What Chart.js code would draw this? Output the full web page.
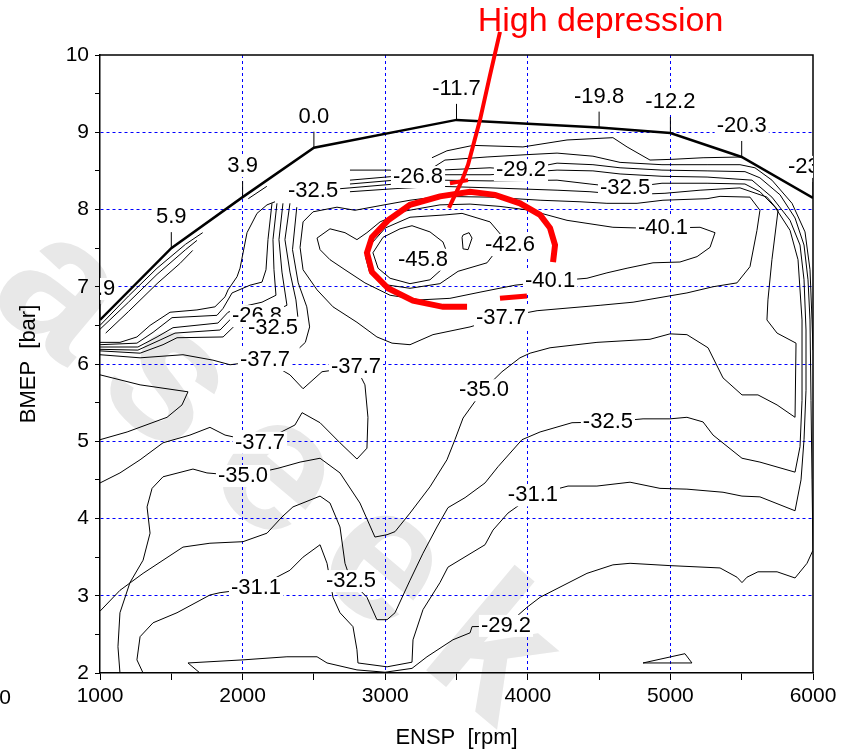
<!DOCTYPE html>
<html>
<head>
<meta charset="utf-8">
<script src="https://cdn.jsdelivr.net/npm/chart.js@4/dist/chart.umd.min.js"></script>
<style>body{margin:0;background:#fff}</style>
</head>
<body>
<canvas id="c" width="852" height="755"></canvas>
<script>
// full load curve and its value labels
const fullRpm = [1000, 1500, 2000, 2500, 3500, 4500, 5000, 5500, 6000];
const fullBmep = [6.57, 7.50, 8.16, 8.80, 9.16, 9.06, 8.99, 8.68, 8.15];
const fullLabels = ['7.9', '5.9', '3.9', '0.0', '-11.7', '-19.8', '-12.2', '-20.3', '-23.5'];

// contour lines [rpm, bmep]
const c268 = [[2753,8.51],[3034,8.51],[3230,8.42],[3419,8.64],[3714,8.68],[3994,8.71],[4205,8.73],[4457,8.69],[4647,8.61],[4941,8.58],[5257,8.58],[5488,8.58],[5593,8.54],[5712,8.38],[5853,8.08],[5944,7.71],[5979,7.22],[5993,6.57],[6000,6.18]];
const cTop = [[3328,8.67],[3433,8.76],[3616,8.83],[3966,8.81],[4275,8.90],[4597,8.93],[4696,8.81],[4857,8.64],[5018,8.65],[5229,8.67],[5509,8.68]];
const c292 = [[1701,2.00],[1617,2.13],[2003,2.17],[2311,2.21],[2522,2.21],[2592,2.13],[2802,2.04],[2999,2.01],[3188,2.06],[3293,2.21],[3475,2.43],[3595,2.52],[3609,2.60],[3847,2.61],[3994,2.85],[4086,2.98],[4415,3.29],[4597,3.40],[4717,3.42],[4997,3.39],[5348,3.36],[5467,3.24],[5502,3.17],[5537,3.24],[5614,3.31],[5748,3.31],[5874,3.23],[5958,3.42],[6000,3.59],[5993,4.50],[5986,5.53],[5979,6.57],[5965,7.09],[5937,7.54],[5874,7.89],[5769,8.19],[5628,8.41],[5523,8.49],[5257,8.50],[4941,8.51],[4647,8.54],[4457,8.58],[4205,8.60],[3952,8.51],[3735,8.54],[3384,8.51],[3069,8.43],[2753,8.38]];
const c311 = [[1302,2.00],[1259,2.17],[1281,2.47],[1372,2.65],[1540,2.78],[1701,2.94],[1771,3.01],[1842,3.04],[2094,3.10],[2332,3.33],[2424,3.50],[2543,3.66],[2592,3.42],[2634,2.98],[2683,2.78],[2774,2.60],[2802,2.30],[2809,2.13],[3013,2.08],[3188,2.14],[3195,2.43],[3265,2.82],[3384,3.17],[3440,3.37],[3700,3.66],[3756,3.85],[3861,4.07],[4036,4.30],[4282,4.42],[4485,4.42],[4717,4.47],[4927,4.39],[5116,4.38],[5369,4.34],[5502,4.29],[5628,4.28],[5874,4.10],[5916,4.50],[5937,5.02],[5951,5.66],[5951,6.44],[5937,7.09],[5909,7.54],[5839,7.86],[5712,8.16],[5572,8.38],[5257,8.42],[4941,8.43],[4647,8.46],[4457,8.50],[4205,8.51],[3735,8.45],[3384,8.45],[3069,8.38],[2753,8.33]];
const c325 = [[1000,2.80],[1140,3.07],[1302,3.29],[1582,3.63],[1771,3.68],[2003,3.70],[2171,3.81],[2276,4.02],[2353,4.15],[2543,4.29],[2613,4.20],[2683,3.89],[2718,3.42],[2760,3.19],[2872,2.98],[2942,2.69],[3013,2.69],[3069,2.78],[3174,3.20],[3265,3.55],[3363,3.89],[3440,4.14],[3560,4.27],[3700,4.46],[3791,4.67],[3959,5.02],[4086,5.12],[4310,5.24],[4562,5.25],[4808,5.29],[4997,5.29],[5116,5.31],[5229,5.25],[5299,5.08],[5502,4.78],[5628,4.73],[5874,4.60],[5909,4.93],[5923,5.53],[5923,6.57],[5895,7.35],[5839,7.73],[5734,8.03],[5628,8.23],[5523,8.33],[5257,8.34],[4941,8.34],[4682,8.28],[4436,8.33],[4205,8.38],[3735,8.37],[3384,8.38],[3069,8.33],[2753,8.28],[2494,8.24]];
const c350 = [[1140,2.00],[1126,2.34],[1140,2.78],[1210,3.17],[1302,3.46],[1351,3.81],[1330,4.15],[1365,4.39],[1442,4.54],[1652,4.64],[1750,4.59],[2003,4.55],[2248,4.65],[2403,4.73],[2543,4.78],[2683,4.59],[2823,4.20],[2928,3.76],[3013,3.79],[3069,3.83],[3174,4.07],[3314,4.41],[3433,4.76],[3489,5.02],[3546,5.30],[3686,5.66],[3819,5.90],[3945,6.08],[4016,6.14],[4156,6.21],[4485,6.28],[4857,6.32],[4997,6.39],[5116,6.38],[5264,6.21],[5369,5.82],[5502,5.60],[5614,5.60],[5748,5.47],[5874,5.31],[5881,6.27],[5748,6.40],[5677,6.57],[5684,6.83],[5712,7.35],[5755,7.99],[5677,8.16],[5488,8.28],[5208,8.25],[4962,8.21],[4682,8.19],[4436,8.23],[4205,8.25],[3735,8.28],[3384,8.30],[3069,8.27],[2753,8.23]];
const c377Low = [[1000,6.12],[1281,6.08],[1582,6.12],[1792,6.05],[1912,5.99],[2157,6.05],[2332,5.86],[2424,5.68],[2557,5.90],[2795,5.96],[2858,5.73],[2879,5.31],[2872,4.91],[2802,4.77],[2683,4.98],[2543,5.24],[2417,5.37],[2367,5.21],[2122,4.98],[1877,5.08],[1771,5.18],[1631,5.08],[1442,4.98],[1281,4.76],[1140,4.59],[1000,4.46]];
const c377Up = [[3812,6.60],[3595,6.48],[3335,6.38],[3174,6.25],[3048,6.27],[2942,6.35],[2802,6.54],[2634,6.74],[2522,6.96],[2424,7.22],[2403,7.51],[2424,7.84],[2494,7.97],[2662,8.03],[2788,7.99],[2964,8.05],[3174,8.12],[3384,8.17],[3735,8.16],[4086,8.12],[4366,8.10],[4555,8.08],[4766,8.08],[4948,8.12],[5257,8.14],[5348,8.17],[5558,8.16],[5628,7.99],[5607,7.73],[5558,7.26],[5467,7.05],[5299,7.00],[5116,6.92],[4738,6.80],[4507,6.76],[4065,6.69],[3812,6.60]];
const c401 = [[2522,7.63],[2613,7.75],[2718,7.70],[2802,7.61],[2872,7.70],[2964,7.84],[3139,7.98],[3384,8.06],[3595,8.07],[3805,8.04],[4016,7.99],[4275,7.86],[4597,7.77],[4787,7.76],[4948,7.76],[5208,7.77],[5313,7.70],[5278,7.51],[5187,7.39],[5067,7.32],[4878,7.31],[4696,7.24],[4555,7.18],[4415,7.11],[4156,7.07],[3910,7.02],[3665,6.93],[3454,6.85],[3244,6.83],[3034,6.89],[2858,7.05],[2718,7.22],[2613,7.35],[2543,7.48],[2522,7.63]];
const c426 = [[2900,7.55],[3000,7.76],[3174,7.90],[3419,7.93],[3539,7.95],[3735,7.84],[3840,7.61],[3714,7.31],[3511,7.20],[3384,7.04],[3174,6.98],[2990,7.03],[2890,7.19],[2860,7.40],[2900,7.55]];
const c458 = [[2914,7.44],[2985,7.64],[3104,7.75],[3188,7.79],[3314,7.71],[3405,7.58],[3440,7.41],[3405,7.24],[3314,7.09],[3174,7.04],[3034,7.11],[2950,7.24],[2914,7.44]];
const cPeak = [[3546,7.67],[3588,7.70],[3609,7.63],[3581,7.48],[3546,7.49],[3539,7.64],[3546,7.67]];
const cTongue = [[1000,5.86],[1281,5.73],[1617,5.64],[1575,5.47],[1470,5.31],[1190,5.12],[1000,5.02]];
const cTri = [[4808,2.13],[5102,2.25],[5151,2.13],[4808,2.13]];
const k1 = [[1000,6.28],[1140,6.28],[1259,6.35],[1351,6.50],[1491,6.67],[1680,6.70],[1806,6.74],[1877,6.87],[1898,6.96],[1961,7.13],[1982,7.24],[2031,7.70],[2101,7.95],[2171,8.06],[2227,8.10]];
const k2 = [[1000,6.25],[1259,6.27],[1372,6.41],[1505,6.60],[1820,6.63],[1863,6.72],[1926,6.92],[2052,7.02],[2136,7.06],[2164,7.22],[2178,7.61],[2206,8.08]];
const k3 = [[1000,6.22],[1266,6.22],[1400,6.35],[1512,6.47],[1827,6.53],[1898,6.67],[2017,6.75],[2136,6.80],[2234,6.89],[2220,7.22],[2213,7.61],[2241,8.08]];
const k4 = [[1000,6.19],[1266,6.18],[1421,6.31],[1526,6.40],[1842,6.44],[1926,6.60],[2052,6.65],[2192,6.66],[2311,6.76],[2276,7.19],[2255,7.61],[2283,8.08]];
const k5 = [[1000,6.17],[1281,6.14],[1442,6.25],[1540,6.34],[1863,6.35],[1947,6.50],[2087,6.54],[2297,6.57],[2388,6.60],[2374,6.83],[2332,7.19],[2297,7.61],[2332,8.08]];
const k6 = [[2380,8.03],[2350,7.48],[2390,7.05],[2450,6.74],[2470,6.48],[2440,6.28],[2400,6.21]];
const h1 = [[1000,6.50],[1200,6.88],[1400,7.24],[1600,7.55],[1720,7.70]];
const h2 = [[1000,6.45],[1200,6.80],[1400,7.16],[1600,7.48],[1680,7.60]];
const h3 = [[1040,6.40],[1200,6.68],[1400,7.04],[1560,7.30],[1650,7.47]];
const h4 = [[2040,8.14],[2170,8.30]];

// contour value labels [rpm, bmep, text]
const contourLabels = [
  [2101, 6.62, '-26.8'], [2213, 6.47, '-32.5'],
  [2494, 8.24, '-32.5'], [3230, 8.42, '-26.8'], [3952, 8.51, '-29.2'], [4682, 8.28, '-32.5'],
  [4948, 7.76, '-40.1'], [3265, 7.35, '-45.8'], [3875, 7.54, '-42.6'], [4156, 7.07, '-40.1'],
  [3812, 6.60, '-37.7'], [2157, 6.05, '-37.7'], [2795, 5.96, '-37.7'], [3693, 5.66, '-35.0'],
  [4562, 5.25, '-32.5'], [2122, 4.98, '-37.7'], [2003, 4.55, '-35.0'], [4036, 4.30, '-31.1'],
  [2094, 3.10, '-31.1'], [2760, 3.19, '-32.5'], [3847, 2.61, '-29.2']
];

// red annotation
const noteArrow = [[3805,10.30],[3735,9.74],[3665,9.16],[3581,8.58],[3539,8.38],[3447,8.02]];
const noteBarb = [[3454,8.34],[3581,8.38]];
const noteRing = [[4177,7.32],[4191,7.54],[4156,7.76],[4086,7.93],[3945,8.08],[3770,8.19],[3595,8.23],[3384,8.17],[3174,8.06],[3020,7.86],[2907,7.64],[2872,7.44],[2907,7.19],[3020,6.98],[3195,6.82],[3405,6.74],[3574,6.74]];
const noteDash = [[3805,6.85],[3994,6.88]];

const FONT = 'Liberation Sans, Arial, sans-serif';
const pts = a => a.map(p => ({x: p[0], y: p[1]}));
const line = (a, color, w, clip) => ({
  data: pts(a), showLine: true, borderColor: color, borderWidth: w,
  pointRadius: 0, tension: 0, fill: false, clip: clip === false ? false : undefined
});

const red = [
  line(noteArrow, '#ff0000', 4, false),
  line(noteBarb, '#ff0000', 4, false),
  line(noteRing, '#ff0000', 6, false),
  line(noteDash, '#ff0000', 5, false)
];
const blacks = [c268, cTop, c292, c311, c325, c350, c377Low, c377Up, c401, c426, c458, cPeak,
  cTongue, cTri, k1, k2, k3, k4, k5, k6, h1, h2, h3, h4].map(a => line(a, '#000', 1));
const datasets = red.concat([line(fullRpm.map((r, i) => [r, fullBmep[i]]), '#000', 2.5)], blacks);

const overlay = {
  id: 'overlay',
  beforeDraw(chart) {
    // faint watermark behind the plot
    const ctx = chart.ctx;
    ctx.save();
    ctx.fillStyle = '#e8e8e8';
    ctx.font = 'bold 190px ' + FONT;
    ctx.letterSpacing = '35px';
    ctx.translate(-15, 300);
    ctx.rotate(40 * Math.PI / 180);
    ctx.fillText('aseek', 0, 0);
    ctx.restore();
  },
  afterDatasetDraw(chart, args) {
    if (args.index !== red.length) return;
    const ctx = chart.ctx, a = chart.chartArea;
    const xs = chart.scales.x, ys = chart.scales.y;
    ctx.save();
    ctx.strokeStyle = '#000';
    ctx.lineWidth = 1.5;
    ctx.beginPath();
    ctx.moveTo(a.left, a.top); ctx.lineTo(a.right, a.top); ctx.lineTo(a.right, a.bottom);
    ctx.stroke();
    ctx.beginPath();
    ctx.rect(a.left, a.top, a.right - a.left, a.bottom - a.top);
    ctx.clip();
    ctx.font = '22px ' + FONT;
    ctx.textAlign = 'center';
    ctx.textBaseline = 'middle';
    const label = (x, y, t) => {
      const w = ctx.measureText(t).width;
      ctx.fillStyle = '#fff';
      ctx.fillRect(x - w / 2 - 2, y - 11, w + 4, 22);
      ctx.fillStyle = '#000';
      ctx.fillText(t, x, y);
    };
    ctx.lineWidth = 1;
    fullRpm.forEach((r, i) => {
      const px = xs.getPixelForValue(r), py = ys.getPixelForValue(fullBmep[i]);
      ctx.beginPath(); ctx.moveTo(px, py); ctx.lineTo(px, py - 16); ctx.stroke();
      label(px, py - 31, fullLabels[i]);
    });
    contourLabels.forEach(l => label(xs.getPixelForValue(l[0]), ys.getPixelForValue(l[1]), l[2]));
    ctx.restore();
  },
  afterDraw(chart) {
    const ctx = chart.ctx;
    ctx.save();
    ctx.fillStyle = '#ff0000';
    ctx.font = '34px ' + FONT;
    ctx.textAlign = 'center';
    ctx.textBaseline = 'middle';
    ctx.fillText('High depression', chart.scales.x.getPixelForValue(4510), 22);
    ctx.fillStyle = '#000';
    ctx.font = '21px ' + FONT;
    ctx.fillText('0', 5, 698);
    ctx.restore();
  }
};

const majorGrid = (edgeA, edgeB, step) => c => {
  const v = c.tick ? c.tick.value : null;
  if (v === null || v === edgeA || v === edgeB) return 'rgba(0,0,0,0)';
  return Math.abs(v / step - Math.round(v / step)) < 1e-6 ? '#0000ff' : 'rgba(0,0,0,0)';
};

new Chart(document.getElementById('c'), {
  type: 'scatter',
  data: { datasets },
  options: {
    responsive: false,
    animation: false,
    layout: { padding: { top: 55, right: 39, left: 0, bottom: 0 } },
    plugins: { legend: { display: false }, tooltip: { enabled: false } },
    scales: {
      x: {
        type: 'linear', min: 1000, max: 6000,
        afterFit: s => { s.height = 82; },
        ticks: {
          stepSize: 500, autoSkip: false, maxRotation: 0, padding: 4,
          color: '#000', font: { family: FONT, size: 21 },
          callback: v => (v % 1000 === 0 ? v : '')
        },
        grid: { color: majorGrid(1000, 6000, 1000), tickColor: '#000', tickLength: 7, lineWidth: 1 },
        border: { color: '#000', width: 1.5, dash: [3, 3] },
        title: { display: true, text: 'ENSP  [rpm]', color: '#000', font: { family: FONT, size: 22 }, padding: { top: 0, bottom: 4 } }
      },
      y: {
        type: 'linear', min: 2, max: 10,
        afterFit: s => { s.width = 100; },
        ticks: {
          stepSize: 0.5, autoSkip: false, padding: 6,
          color: '#000', font: { family: FONT, size: 21 },
          callback: v => (Number.isInteger(v) ? v : '')
        },
        grid: { color: majorGrid(2, 10, 1), tickColor: '#000', tickLength: 5, lineWidth: 1 },
        border: { color: '#000', width: 1.5, dash: [3, 3] },
        title: { display: true, text: 'BMEP  [bar]', color: '#000', font: { family: FONT, size: 22 }, padding: { top: 16, bottom: 0 } }
      }
    }
  },
  plugins: [overlay]
});
</script>
</body>
</html>
